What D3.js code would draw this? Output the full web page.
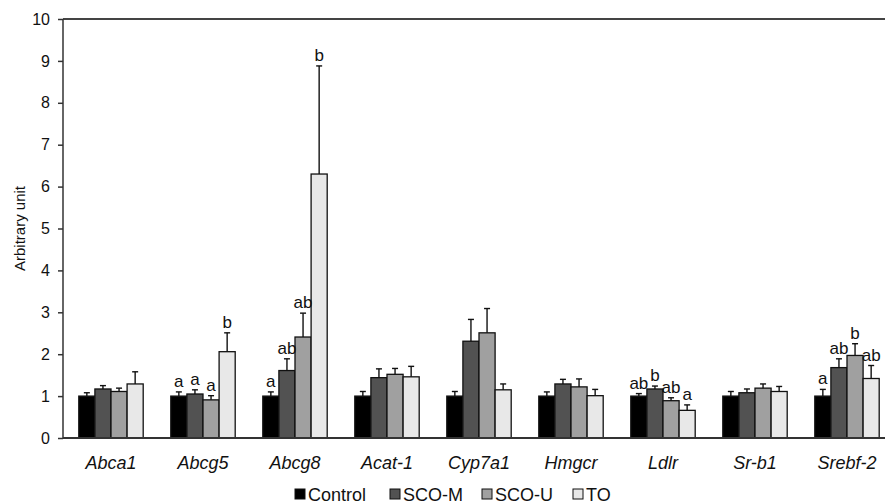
<!DOCTYPE html>
<html>
<head>
<meta charset="utf-8">
<script src="https://cdn.jsdelivr.net/npm/d3@7"></script>
<style>
  body { margin: 0; background: #fff; }
  svg { display: block; font-family: "Liberation Sans", Arial, sans-serif; }
</style>
</head>
<body>
<svg id="chart" width="885" height="504"></svg>
<script>
// genes on the x axis
const genes = ['Abca1', 'Abcg5', 'Abcg8', 'Acat-1', 'Cyp7a1', 'Hmgcr', 'Ldlr', 'Sr-b1', 'Srebf-2']
const groups = ['Control', 'SCO-M', 'SCO-U', 'TO']
const yTicks = [0, 1, 2, 3, 4, 5, 6, 7, 8, 9, 10]

// mean values per group (one entry per gene)
const control = [1.00, 1.00, 1.00, 1.00, 1.00, 1.00, 1.00, 1.00, 1.00]
const scoM    = [1.17, 1.05, 1.61, 1.44, 2.31, 1.29, 1.17, 1.08, 1.68]
const scoU    = [1.11, 0.91, 2.41, 1.52, 2.51, 1.22, 0.89, 1.19, 1.97]
const to      = [1.29, 2.06, 6.30, 1.46, 1.15, 1.01, 0.66, 1.11, 1.42]

// error bar (upper part only)
const controlErr = [0.08, 0.10, 0.10, 0.11, 0.11, 0.10, 0.06, 0.11, 0.16]
const scoMErr    = [0.08, 0.10, 0.28, 0.21, 0.52, 0.11, 0.07, 0.09, 0.21]
const scoUErr    = [0.08, 0.10, 0.57, 0.14, 0.58, 0.19, 0.07, 0.10, 0.28]
const toErr      = [0.29, 0.45, 2.58, 0.25, 0.14, 0.15, 0.13, 0.12, 0.31]

// significance letters ('' = none)
const controlSig = ['', 'a', 'a', '', '', '', 'ab', '', 'a']
const scoMSig    = ['', 'a', 'ab', '', '', '', 'b', '', 'ab']
const scoUSig    = ['', 'a', 'ab', '', '', '', 'ab', '', 'b']
const toSig      = ['', 'b', 'b', '', '', '', 'a', '', 'ab']

const fills = ['#000000', '#525252', '#a0a0a0', '#e8e8e8']

const values = [control, scoM, scoU, to]
const errs = [controlErr, scoMErr, scoUErr, toErr]
const sigs = [controlSig, scoMSig, scoUSig, toSig]

// flatten into one row per bar
const bars = []
genes.forEach((g, i) => {
    groups.forEach((s, j) => {
        bars.push({gene: g, group: s, j: j, value: values[j][i], err: errs[j][i], sig: sigs[j][i]})
    })
})

const svg = d3.select('#chart')
const plotLeft = 63, plotTop = 19, plotBottom = 438, plotRight = 893

const x = d3.scaleBand(genes, [plotLeft + 2, plotRight]).paddingInner(0.3).paddingOuter(0.15)
const xInner = d3.scaleBand(groups, [0, x.bandwidth()]).padding(0)
const y = d3.scaleLinear([0, 10], [plotBottom, plotTop])

// top frame line
svg.append('line')
   .attr('x1', plotLeft).attr('x2', 885)
   .attr('y1', y(10)).attr('y2', y(10))
   .attr('stroke', '#444').attr('stroke-width', 2)

// bars
svg.append('g')
   .selectAll('rect')
   .data(bars)
   .join('rect')
     .attr('x', d => x(d.gene) + xInner(d.group))
     .attr('width', xInner.bandwidth())
     .attr('y', d => y(d.value))
     .attr('height', d => y(0) - y(d.value))
     .attr('fill', d => fills[d.j])
     .attr('stroke', '#111')
     .attr('stroke-width', 1.3)

// error bars
const eb = svg.append('g').attr('stroke', '#111').attr('stroke-width', 1.4)
eb.selectAll('line.v')
  .data(bars)
  .join('line')
    .attr('class', 'v')
    .attr('x1', d => x(d.gene) + xInner(d.group) + xInner.bandwidth() / 2)
    .attr('x2', d => x(d.gene) + xInner(d.group) + xInner.bandwidth() / 2)
    .attr('y1', d => y(d.value))
    .attr('y2', d => y(d.value + d.err))
eb.selectAll('line.cap')
  .data(bars)
  .join('line')
    .attr('class', 'cap')
    .attr('x1', d => x(d.gene) + xInner(d.group) + xInner.bandwidth() / 2 - 3)
    .attr('x2', d => x(d.gene) + xInner(d.group) + xInner.bandwidth() / 2 + 3)
    .attr('y1', d => y(d.value + d.err))
    .attr('y2', d => y(d.value + d.err))

// significance letters
svg.append('g')
   .selectAll('text')
   .data(bars.filter(d => d.sig))
   .join('text')
     .attr('x', d => x(d.gene) + xInner(d.group) + xInner.bandwidth() / 2)
     .attr('y', d => y(d.value + d.err) - 5)
     .attr('text-anchor', 'middle')
     .attr('font-size', 17)
     .attr('fill', '#111')
     .text(d => d.sig)

// y axis
const yAxis = d3.axisLeft(y).tickValues(yTicks).tickSize(5).tickPadding(8)
svg.append('g')
   .attr('transform', `translate(${plotLeft},0)`)
   .call(yAxis)
   .call(g => g.selectAll('path, line').attr('stroke', '#333').attr('stroke-width', 1.5))
   .call(g => g.select('.domain').attr('d', `M0,${y(10)}V${y(0)}`))
   .selectAll('text')
     .attr('font-size', 16)
     .attr('font-family', '"Liberation Sans", Arial, sans-serif')
     .attr('fill', '#111')

// x axis line
svg.append('line')
   .attr('x1', plotLeft).attr('x2', 885)
   .attr('y1', y(0)).attr('y2', y(0))
   .attr('stroke', '#333').attr('stroke-width', 1.8)

// gene labels
svg.append('g')
   .selectAll('text')
   .data(genes)
   .join('text')
     .attr('x', d => x(d) + x.bandwidth() / 2)
     .attr('y', 469)
     .attr('text-anchor', 'middle')
     .attr('font-size', 18)
     .attr('font-style', 'italic')
     .attr('fill', '#111')
     .text(d => d)

// y title
svg.append('text')
   .attr('transform', `translate(25,${(y(0) + y(10)) / 2}) rotate(-90)`)
   .attr('text-anchor', 'middle')
   .attr('font-size', 15)
   .attr('fill', '#111')
   .text('Arbitrary unit')

// legend
const legendX = [295, 390, 482, 573]
const lg = svg.append('g')
groups.forEach((s, j) => {
    lg.append('rect')
      .attr('x', legendX[j]).attr('y', 489)
      .attr('width', 10).attr('height', 10)
      .attr('fill', fills[j])
      .attr('stroke', '#111').attr('stroke-width', 1)
    lg.append('text')
      .attr('x', legendX[j] + 13).attr('y', 500.5)
      .attr('font-size', 18)
      .attr('fill', '#111')
      .text(s)
})
</script>
</body>
</html>
